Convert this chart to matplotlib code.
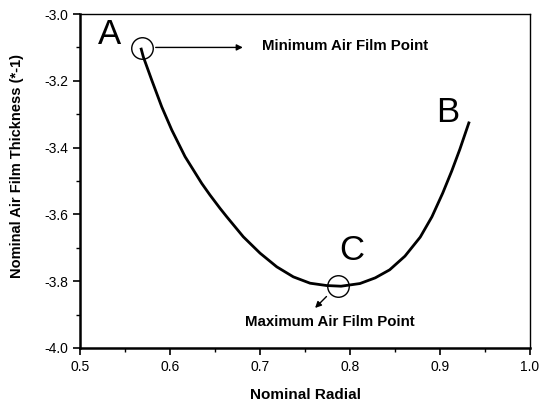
import matplotlib
matplotlib.use("Agg")
import matplotlib.pyplot as plt
from matplotlib.ticker import MultipleLocator

plt.rcParams['font.family'] = ['Liberation Sans', 'DejaVu Sans']

# curve
radial = [0.568, 0.5703, 0.5797, 0.5908, 0.6019, 0.6167, 0.6352, 0.6444, 0.6556, 0.663,
          0.6814, 0.700, 0.7186, 0.737, 0.7556, 0.774, 0.790, 0.811, 0.828, 0.844,
          0.861, 0.878, 0.891, 0.903, 0.913, 0.922, 0.932]
thickness = [-3.105, -3.128, -3.198, -3.278, -3.347, -3.427, -3.507, -3.542, -3.582, -3.607,
             -3.667, -3.716, -3.757, -3.787, -3.806, -3.813, -3.815, -3.807, -3.790, -3.766,
             -3.725, -3.668, -3.607, -3.536, -3.470, -3.405, -3.326]

mark_x = [0.5686, 0.7867]
mark_y = [-3.102, -3.814]
letters = ["A", "B", "C"]
letter_x = [0.533, 0.909, 0.802]
letter_y = [-3.061, -3.296, -3.707]
xticks = [0.5, 0.6, 0.7, 0.8, 0.9, 1.0]
yticks = [-4.0, -3.8, -3.6, -3.4, -3.2, -3.0]

fig = plt.figure(figsize=(5.47, 4.01), dpi=100)
ax = fig.add_axes([0.1463, 0.1322, 0.8227, 0.8328])

ax.plot(radial, thickness, color='black', lw=2)

# circled points
ax.plot(mark_x, mark_y, 'o', ms=15.5, mfc='none', mec='black', mew=1.0)

for s, x, y in zip(letters, letter_x, letter_y):
    ax.text(x, y, s, fontsize=25, ha='center', va='center')

ax.annotate("", xy=(0.684, -3.10), xytext=(0.581, -3.10),
            arrowprops=dict(arrowstyle='-|>', color='black', lw=1.0, mutation_scale=9))
ax.text(0.702, -3.095, "Minimum Air Film Point", fontsize=10.8, fontweight='bold',
        ha='left', va='center')

ax.annotate("", xy=(0.759, -3.886), xytext=(0.776, -3.840),
            arrowprops=dict(arrowstyle='-|>', color='black', lw=1.0, mutation_scale=9))
ax.text(0.777, -3.921, "Maximum Air Film Point", fontsize=10.8, fontweight='bold',
        ha='center', va='center')

ax.set_xlim(0.5, 1.0)
ax.set_ylim(-4.0, -3.0)
ax.set_xticks(xticks)
ax.set_yticks(yticks)
ax.set_xticklabels(["%.1f" % v for v in xticks])
ax.set_yticklabels(["%.1f" % v for v in yticks])
ax.xaxis.set_minor_locator(MultipleLocator(0.05))
ax.yaxis.set_minor_locator(MultipleLocator(0.1))
ax.tick_params(which='major', direction='out', length=5, width=1.2, labelsize=10)
ax.tick_params(which='minor', direction='out', length=3, width=1.0)

for side in ['left', 'bottom']:
    ax.spines[side].set_linewidth(1.8)
for side in ['top', 'right']:
    ax.spines[side].set_linewidth(1.0)

ax.set_xlabel("Nominal Radial", fontsize=11, fontweight='bold', labelpad=10)
ax.set_ylabel("Nominal Air Film Thickness (*-1)", fontsize=10.5, fontweight='bold')
ax.yaxis.set_label_coords(-0.124, 0.545)

fig.savefig("out.png", dpi=100)
